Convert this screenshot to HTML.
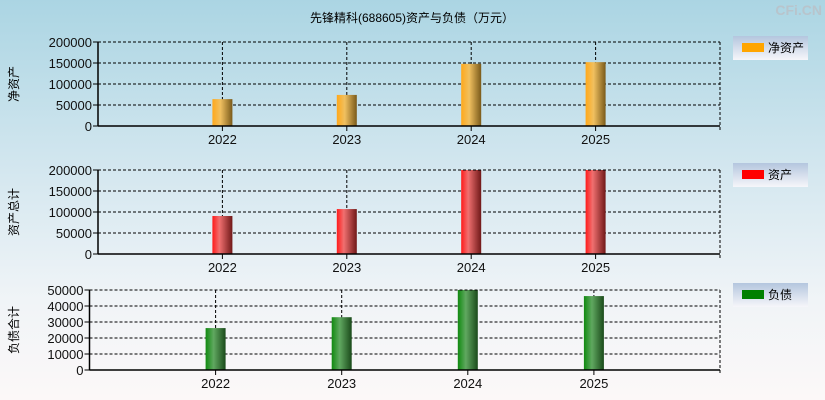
<!DOCTYPE html>
<html><head><meta charset="utf-8"><style>
body{margin:0;width:825px;height:400px;overflow:hidden;font-family:"Liberation Sans","Noto Sans CJK SC",sans-serif;}
#bg{position:absolute;left:0;top:0;width:825px;height:400px;background:linear-gradient(#abd5e3,#d6e8f0 45%,#f0f4f7 75%,#fcf8f8);}
svg{position:absolute;left:0;top:0}
</style></head><body>
<div id="bg"></div>
<svg id="c" width="825" height="400">
<defs>
<linearGradient id="gO" x1="0" x2="1"><stop offset="0" stop-color="#ffa81a"/><stop offset="0.4" stop-color="#f0c060"/><stop offset="1" stop-color="#7a5a1a"/></linearGradient>
<linearGradient id="gR" x1="0" x2="1"><stop offset="0" stop-color="#ff1a1a"/><stop offset="0.35" stop-color="#f07070"/><stop offset="1" stop-color="#701818"/></linearGradient>
<linearGradient id="gG" x1="0" x2="1"><stop offset="0" stop-color="#108a10"/><stop offset="0.4" stop-color="#60a860"/><stop offset="1" stop-color="#1a4a1a"/></linearGradient>
<linearGradient id="gL" x1="0" x2="0" y1="0" y2="1"><stop offset="0" stop-color="#b4c6de"/><stop offset="1" stop-color="#f6f6fa"/></linearGradient>
</defs>
<text x="412" y="22" text-anchor="middle" font-size="12">先锋精科(688605)资产与负债（万元）</text>
<text x="822" y="15" text-anchor="end" font-size="14" font-weight="bold" fill="#b8c4cc">CFi.CN</text>
</svg>
<script>
const categories=["2022","2023","2024","2025"];
const netAssets=[64000,74000,148000,152000];
const totalAssets=[90500,107000,200000,200000];
const liabilities=[26200,33000,50000,46200];
const ticks1=[0,50000,100000,150000,200000];
const ticks3=[0,10000,20000,30000,40000,50000];
const legendNames=["净资产","资产","负债"];
const axisTitles=["净资产","资产总计","负债合计"];
const NS="http://www.w3.org/2000/svg";
const svg=document.getElementById('c');
function mk(t,a,p){const e=document.createElementNS(NS,t);for(const k in a)e.setAttribute(k,a[k]);(p||svg).appendChild(e);return e;}
const panels=[
 {l:98,r:720,t:42,b:126,max:200000,ticks:ticks1,vals:netAssets,fill:"url(#gO)",lc:"#ffa500",ly:36},
 {l:98,r:720,t:170,b:254,max:200000,ticks:ticks1,vals:totalAssets,fill:"url(#gR)",lc:"#ff0000",ly:163},
 {l:89.5,r:720,t:290,b:370,max:50000,ticks:ticks3,vals:liabilities,fill:"url(#gG)",lc:"#008000",ly:283}];
panels.forEach((p,pi)=>{
 const g=mk('g',{});
 
 
 const xs=i=>p.l+(i+1)*(p.r-p.l)/5;
 const ys=v=>p.b-Math.min(v,p.max)/p.max*(p.b-p.t);
 p.ticks.forEach(tv=>{
  const y=ys(tv);
  if(tv>0){const gl=mk('line',{x1:p.l,x2:p.r,y1:y,y2:y,stroke:'#000','stroke-dasharray':'3,2','stroke-width':1},g);
   }
  mk('line',{x1:p.l-5,x2:p.l,y1:y,y2:y,stroke:'#000'},g);
  const tx=mk('text',{x:p.l-6,y:y+5,'text-anchor':'end','font-size':13,fill:'#111'},g);
  tx.textContent=tv;
  
 });
 categories.forEach((c,i)=>{
  const x=xs(i);
  mk('line',{x1:x,x2:x,y1:p.t,y2:p.b,stroke:'#000','stroke-dasharray':'3,2'},g);
  const v=p.vals[i];
  const bar=mk('rect',{x:x-10,y:ys(v),width:20,height:p.b-ys(v),fill:p.fill},g);
  
  mk('line',{x1:x,x2:x,y1:p.b,y2:p.b+5,stroke:'#000'},g);
  const tx=mk('text',{x:x,y:p.b+18,'text-anchor':'middle','font-size':13,fill:'#111'},g);
  tx.textContent=c;
  
 });
 mk('line',{x1:p.r,x2:p.r,y1:p.t,y2:p.b+4,stroke:'#000','stroke-dasharray':'3,2'},g);
 mk('line',{x1:p.l,x2:p.r,y1:p.t,y2:p.t,stroke:'#000','stroke-dasharray':'3,2'},g);
 mk('line',{x1:p.l,x2:p.l,y1:p.t,y2:p.b,stroke:'#000','stroke-width':1.5},g);
 mk('line',{x1:p.l,x2:p.r,y1:p.b,y2:p.b,stroke:'#000','stroke-width':1.5},g);
 const cy=(p.t+p.b)/2;
 const at=mk('text',{x:0,y:0,'text-anchor':'middle','font-size':12,transform:`translate(18,${cy}) rotate(-90)`},g);
 at.textContent=axisTitles[pi];
 
 const lg=mk('g',{},g);
 
 mk('rect',{x:733,y:p.ly,width:75,height:24,fill:'url(#gL)'},lg);
 mk('rect',{x:742,y:p.ly+7,width:22,height:9,fill:p.lc},lg);
 const lt=mk('text',{x:768,y:p.ly+16,'font-size':12},lg);
 lt.textContent=legendNames[pi];
});
</script>
</body></html>
